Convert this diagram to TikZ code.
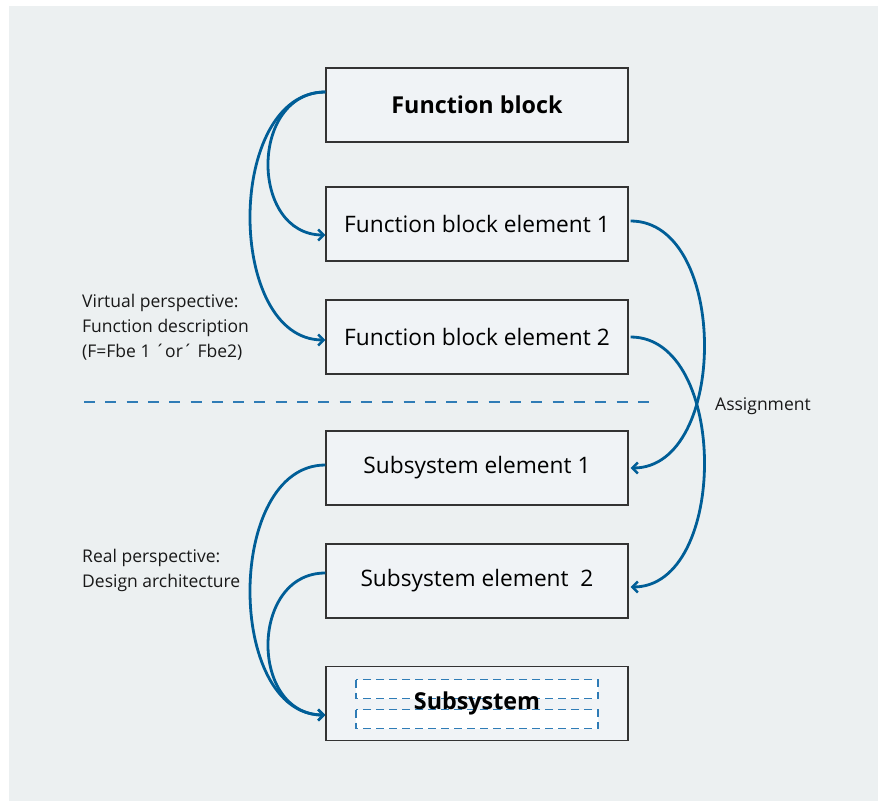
\documentclass[tikz,border=0pt]{standalone}
\usepackage{fontspec}
\setmainfont{Open Sans}
\usetikzlibrary{arrows.meta}

\definecolor{panel}{HTML}{ECF0F1}
\definecolor{boxfill}{HTML}{F0F3F6}
\definecolor{boxline}{HTML}{333333}
\definecolor{flow}{HTML}{005E97}
\definecolor{sep}{HTML}{2F7CB6}

\newcommand{\blockfont}{\fontsize{22.7}{27}\selectfont}
\newcommand{\titlefont}{\fontsize{23.3}{27}\selectfont\bfseries}

\tikzset{
  x=1pt, y=-1pt,
  block/.style={draw=boxline, line width=1.3pt, fill=boxfill,
    minimum width=302pt, minimum height=74pt, inner sep=0pt,
    font=\blockfont},
  flowline/.style={draw=flow, line width=2.8pt,
    -{Straight Barb[length=5.5pt,width=11pt,line width=2.4pt]}},
  note/.style={align=left, anchor=west, inner sep=0pt,
    font=\fontsize{17.5}{25}\selectfont, text=black!90},
  slot/.style={draw=sep, fill=white, line width=1.6pt,
    dash pattern=on 8pt off 5pt},
}

\begin{document}
\begin{tikzpicture}
  \useasboundingbox (0,0) rectangle (880,803);
  \fill[panel] (9,6) rectangle (878,801);

  % separator between the virtual and the real perspective
  \draw[sep, line width=1.4pt, dash pattern=on 11pt off 10.3pt] (84,402) -- (652,402);

  % blocks
  \node[block, font=\titlefont] (fb) at (477,105) {Function block};
  \node[block] (fbe1) at (477,224) {Function block element 1};
  \node[block] (fbe2) at (477,337) {Function block element 2};
  \node[block] (se1) at (477,468) {Subsystem element 1};
  \node[block] (se2) at (477,581) {Subsystem element\ \ 2};
  \node[block] (ss) at (477,703.5) {};

  % placeholder slots inside the subsystem block
  \draw[slot] (356,679.5) rectangle (598,698.5);
  \draw[slot] (356,709.5) rectangle (598,728.5);
  \node[font=\titlefont, inner sep=0pt] (sst) at (ss.center) {Subsystem};

  % function block decomposition
  \draw[flowline] ([yshift=13pt]fb.west) .. controls +(-76,0) and +(-76,0) .. ([yshift=-11pt]fbe1.west);
  \draw[flowline] ([yshift=13pt]fb.west) .. controls +(-100,0) and +(-100,0) .. ([yshift=-3pt]fbe2.west);

  % assignment to subsystem elements
  \draw[flowline] ([yshift=3pt,xshift=2pt]fbe1.east) .. controls +(98,0) and +(98,0) .. ([xshift=2pt]se1.east);
  \draw[flowline] ([xshift=2pt]fbe2.east) .. controls +(98,0) and +(98,0) .. ([yshift=-6pt,xshift=2pt]se2.east);

  % design architecture
  \draw[flowline] ([yshift=3pt]se1.west) .. controls +(-100,0) and +(-100,0) .. ([yshift=-11.5pt]ss.west);
  \draw[flowline] ([yshift=8pt]se2.west) .. controls +(-76,0) and +(-76,0) .. ([yshift=-11.5pt]ss.west);

  % annotations
  \node[note] (virt) at (82,327) {Virtual perspective:\\Function description\\(F=Fbe 1 ´or´ Fbe2)};
  \node[note] (real) at (82,570) {Real perspective:\\Design architecture};
  \node[note] (asg) at (715,406) {Assignment};
\end{tikzpicture}
\end{document}
